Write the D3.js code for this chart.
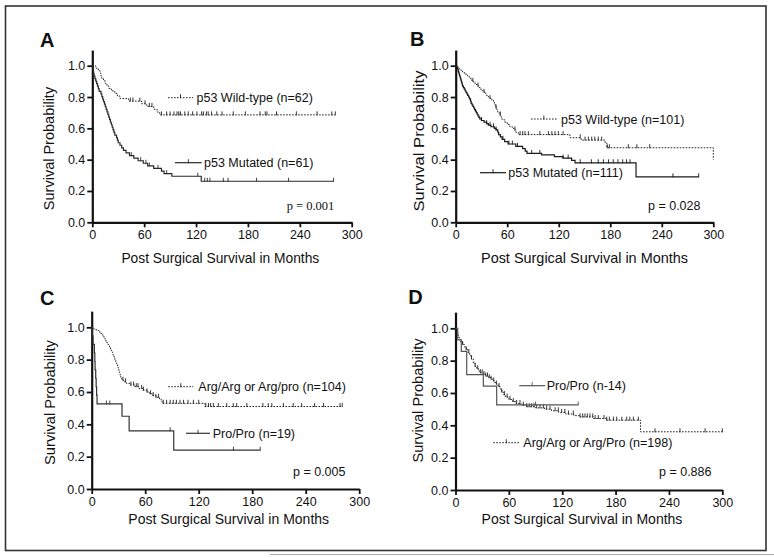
<!DOCTYPE html>
<html><head><meta charset="utf-8">
<script src="https://cdn.jsdelivr.net/npm/d3@7"></script>
<style>body{margin:0;background:#fff} svg{display:block} text{font-family:"Liberation Sans",Arial,sans-serif;fill:#111}</style>
</head><body><svg id="c" width="774" height="558"></svg>
<script>
// ---------- tick labels ----------
const xTicks = [0, 60, 120, 180, 240, 300];
const yTicks = [0, 0.2, 0.4, 0.6, 0.8, 1.0];
const panelLetters = ["A", "B", "C", "D"];
const pValues = ["p = 0.001", "p = 0.028", "p = 0.005", "p = 0.886"];
const xTitle = "Post Surgical Survival in Months";
const yTitle = "Survival Probability";

// ---------- Panel A ----------
const aWildLabel = "p53 Wild-type (n=62)";
const aWildSteps = [[0,1],[4,0.984],[7,0.968],[9,0.952],[10,0.935],[11,0.919],[13,0.903],[15,0.887],[17,0.871],[19,0.855],[22,0.839],[26,0.823],[29,0.806],[32,0.79],[42,0.774],[57,0.757],[63,0.74],[71,0.722],[75,0.704],[78,0.686]];
const aWildEnd = 281;
const aWildCensor = [44,47,55,61,66,69,80,86,90,94.5,98,100,102,107,111,116,121,126.5,128.5,132,134,138,144,150,163,177,194,200,202,213,236,260,277,281];
const aMutLabel = "p53 Mutated (n=61)";
const aMutSteps = [[0,1],[0.5,0.984],[1,0.967],[1.5,0.951],[2,0.934],[3,0.918],[4,0.902],[5,0.885],[6,0.869],[7,0.852],[8,0.836],[10,0.82],[11,0.803],[12,0.787],[13,0.77],[14,0.754],[15,0.738],[16,0.721],[17,0.705],[18,0.689],[19,0.672],[20,0.656],[21,0.639],[22,0.623],[23,0.607],[24,0.59],[25,0.574],[26,0.557],[28,0.541],[29,0.525],[30,0.508],[32,0.492],[34,0.475],[36,0.459],[39,0.443],[43,0.426],[48,0.41],[53,0.393],[59,0.377],[64,0.36],[71,0.344],[80,0.327],[83,0.311],[92,0.294],[126,0.262]];
const aMutEnd = 279;
const aMutCensor = [45,56,62,66,76,86,122,130,133,136,151.5,157,190,227,279];

// ---------- Panel B ----------
const bWildLabel = "p53 Wild-type (n=101)";
const bWildSteps = [[0,1],[2,0.99],[4,0.98],[6,0.97],[8,0.96],[10,0.95],[12,0.94],[14,0.93],[16,0.92],[18,0.91],[19,0.9],[21,0.89],[23,0.88],[25,0.87],[27,0.86],[29,0.85],[31,0.84],[33,0.83],[35,0.82],[36,0.81],[38,0.8],[40,0.79],[42,0.78],[44,0.77],[45,0.76],[46,0.745],[47,0.73],[48,0.715],[49,0.7],[51,0.685],[53,0.67],[54,0.655],[57,0.64],[60,0.625],[63,0.61],[66,0.6],[68,0.59],[70,0.575],[73,0.56],[133,0.54],[146,0.525],[174,0.505],[176,0.476],[300,0.4]];
const bWildEnd = 300;
const bWildCensor = [20,26,33,40,47,52,69,75,78,80.7,84.6,98,108,112,115.6,119.5,125,145,150.6,154.5,158.4,162,166,170,176.6,179,201,211,226];
const bMutLabel = "p53 Mutated (n=111)";
const bMutSteps = [[0,1],[1,0.991],[2,0.982],[2.5,0.973],[3,0.964],[3.5,0.955],[4,0.946],[4.5,0.937],[5,0.928],[5.5,0.919],[6,0.91],[6.5,0.9],[7,0.89],[7.5,0.88],[8,0.87],[9,0.86],[10,0.85],[11,0.84],[12,0.83],[13,0.82],[14,0.81],[15,0.8],[16,0.79],[17,0.78],[17.5,0.77],[18,0.76],[19,0.75],[20,0.74],[21,0.73],[22,0.72],[23,0.71],[24,0.7],[25,0.69],[26,0.68],[27,0.67],[28,0.66],[30,0.65],[33,0.64],[36,0.63],[38,0.62],[41,0.61],[45,0.6],[47,0.59],[49,0.575],[50,0.56],[52,0.545],[54,0.53],[57,0.515],[61,0.5],[70,0.485],[78,0.47],[81,0.455],[83,0.44],[100,0.43],[115,0.42],[125,0.41],[135,0.395],[139,0.38],[210,0.29]];
const bMutEnd = 283;
const bMutCensor = [30,36,40,44,47,55,62,66,72,88.5,98,125,131,145,158,166,172,178,183.5,189,194.5,199,203,253,283];

// ---------- Panel C ----------
const cArgLabel = "Arg/Arg or Arg/pro (n=104)";
const cArgSteps = [[0,1],[2,0.99],[5,0.981],[8,0.971],[10,0.962],[12,0.952],[13,0.942],[14,0.933],[15,0.923],[16,0.913],[17,0.904],[18,0.894],[19,0.885],[20,0.875],[21,0.865],[22,0.856],[23,0.846],[23.5,0.836],[24,0.827],[25,0.817],[25.5,0.808],[26,0.798],[27,0.788],[27.5,0.779],[28,0.769],[29,0.76],[29.5,0.75],[30,0.74],[30.5,0.731],[31,0.721],[31.5,0.712],[32,0.702],[32.5,0.692],[33,0.683],[34,0.673],[36,0.663],[39,0.653],[43,0.643],[48,0.633],[53,0.622],[57,0.611],[62,0.6],[65,0.589],[68,0.578],[72,0.567],[76,0.555],[78,0.543],[79,0.53],[127,0.51]];
const cArgEnd = 281;
const cArgCensor = [35,38,44,47,50,52,56,58,62,66,69,72,75,80.3,84,88,91.5,95,99,103,108,114,120,128,131,133.4,136.4,142,151.4,158.8,162.6,174,192,198,202,215,226,235.5,250,260,278.5,281];
const cProLabel = "Pro/Pro (n=19)";
const cProSteps = [[0,1],[0.5,0.947],[1.5,0.895],[3,0.842],[3.5,0.789],[3.8,0.737],[4.5,0.684],[5,0.632],[5.5,0.579],[6,0.526],[34,0.45],[42,0.36],[92,0.24]];
const cProEnd = 189;
const cProCensor = [16.5,20.3,88,159,189];

// ---------- Panel D ----------
const dProLabel = "Pro/Pro (n-14)";
const dProSteps = [[0,1],[2.5,0.929],[6.5,0.857],[12.6,0.714],[31.3,0.643],[46.3,0.526]];
const dProEnd = 138;
const dProCensor = [90,138];
const dArgLabel = "Arg/Arg or Arg/Pro (n=198)";
const dArgSteps = [[0,1],[1,0.985],[2,0.97],[3,0.955],[4,0.94],[5,0.928],[6,0.915],[8,0.9],[10,0.885],[12,0.868],[14,0.85],[16,0.83],[18,0.81],[20,0.785],[22,0.765],[24,0.75],[26,0.735],[28,0.725],[31,0.715],[34,0.705],[37,0.695],[40,0.685],[42,0.675],[44,0.665],[46,0.655],[48,0.64],[50,0.625],[52,0.605],[54,0.59],[56,0.575],[60,0.56],[64,0.547],[68,0.535],[74,0.525],[80,0.515],[90,0.508],[100,0.5],[108,0.49],[116,0.48],[124,0.47],[133,0.46],[140,0.452],[155,0.442],[170,0.432],[208,0.36]];
const dArgEnd = 300;
const dArgCensor = [8,12,15,18,22,25,28,30,32,34,36,38,40,43,46,49,52,55,58,61.3,65,68.8,72.5,76.3,80,83,85.7,88.3,91.3,95,98.8,102.5,106.3,112,115.6,119.4,123,127,132.5,140,143,145.6,148.2,151.2,154.3,157,160.6,167,170,173,177.5,181.3,187,192.5,196,200,205.6,224.3,252.4,280.6,300];

// ---------- drawing ----------
const svg = d3.select("#c");
svg.append("rect").attr("x",5.5).attr("y",6).attr("width",760.5).attr("height",544.5)
  .attr("fill","none").attr("stroke","#333").attr("stroke-width",1.6);
svg.append("line").attr("x1",270).attr("x2",774).attr("y1",554.5).attr("y2",554.5)
  .attr("stroke","#aaa").attr("stroke-width",1);

const DOT = "1.6,1.4";

function survAt(steps, t) {
  let v = steps[0][1];
  for (const s of steps) { if (s[0] <= t) v = s[1]; else break; }
  return v;
}

const panels = [
  {letter:panelLetters[0], lx:40, ly:47, x0:92.3, x1:351.7, y0:222.3, y1:65.7,
   yt:{x:54, y:148.5, size:14.5, len:null}, xt:{x:220.3, y:263, size:13.8, len:null},
   p:{text:pValues[0], x:286.7, y:210, serif:true},
   series:[
     {steps:aWildSteps, end:aWildEnd, censor:aWildCensor, dash:DOT, color:"#222", w:1, label:aWildLabel, lg:{x1:168, x2:193, y:97.7, tx:196.5}},
     {steps:aMutSteps, end:aMutEnd, censor:aMutCensor, dash:null, color:"#2a2a2a", w:1.2, label:aMutLabel, lg:{x1:175, x2:201.7, y:162.7, tx:204}}
   ]},
  {letter:panelLetters[1], lx:410, ly:46, x0:455.7, x1:713.3, y0:222.3, y1:65.7,
   yt:{x:424, y:141, size:14.5, len:141}, xt:{x:584.5, y:263, size:14.2, len:207},
   p:{text:pValues[1], x:648, y:209.5, serif:false},
   series:[
     {steps:bWildSteps, end:bWildEnd, censor:bWildCensor, dash:DOT, color:"#222", w:1, label:bWildLabel, lg:{x1:531, x2:556.7, y:119, tx:561}},
     {steps:bMutSteps, end:bMutEnd, censor:bMutCensor, dash:null, color:"#1a1a1a", w:1.2, label:bMutLabel, lg:{x1:480, x2:506, y:172.7, tx:508.3}}
   ]},
  {letter:panelLetters[2], lx:40, ly:305, x0:91.7, x1:359.2, y0:489, y1:327.3,
   yt:{x:55, y:402.5, size:14.7, len:null}, xt:{x:228.7, y:524, size:14, len:null},
   p:{text:pValues[2], x:293, y:476, serif:false},
   series:[
     {steps:cArgSteps, end:cArgEnd, censor:cArgCensor, dash:DOT, color:"#222", w:1, label:cArgLabel, lg:{x1:168.3, x2:193.3, y:386.7, tx:198.3}},
     {steps:cProSteps, end:cProEnd, censor:cProCensor, dash:null, color:"#333", w:1.2, label:cProLabel, lg:{x1:186, x2:210, y:433.3, tx:212.7}}
   ]},
  {letter:panelLetters[3], lx:408.3, ly:304.3, x0:455.5, x1:722.3, y0:490, y1:328.3,
   yt:{x:423, y:400.5, size:14.6, len:null}, xt:{x:582, y:524, size:14, len:null},
   p:{text:pValues[3], x:659, y:475.5, serif:false},
   series:[
     {steps:dArgSteps, end:dArgEnd, censor:dArgCensor, dash:DOT, color:"#222", w:1, label:dArgLabel, lg:{x1:493.3, x2:519.3, y:442.7, tx:523.3}},
     {steps:dProSteps, end:dProEnd, censor:dProCensor, dash:null, color:"#555", w:1.2, label:dProLabel, lg:{x1:519.3, x2:545, y:385.7, tx:546.7}}
   ]}
];

panels.forEach(p => {
  const g = svg.append("g");
  const x = d3.scaleLinear().domain([0,300]).range([p.x0, p.x1]);
  const y = d3.scaleLinear().domain([0,1.1]).range([p.y0, p.y0 - (p.y0 - p.y1) * 1.1]);

  // axes
  const ax = g.append("g").attr("transform", `translate(0,${p.y0})`)
    .call(d3.axisBottom(x).tickValues(xTicks).tickSize(5).tickSizeOuter(0).tickPadding(3).tickFormat(d3.format("d")));
  const ay = g.append("g").attr("transform", `translate(${p.x0},0)`)
    .call(d3.axisLeft(y).tickValues(yTicks).tickSize(5).tickSizeOuter(0).tickPadding(2).tickFormat(d3.format(".1f")));
  [ax, ay].forEach(a => {
    a.select(".domain").attr("stroke","#111").attr("stroke-width",2.2);
    a.selectAll(".tick line").attr("stroke","#111").attr("stroke-width",1.8);
    a.selectAll(".tick text").attr("font-size",12.5).attr("fill","#111")
      .attr("font-family",'"Liberation Sans",Arial,sans-serif');
  });

  // series
  p.series.forEach(s => {
    const pts = s.steps.slice();
    const last = pts[pts.length - 1];
    if (s.end > last[0]) pts.push([s.end, last[1]]);
    g.append("path").datum(pts)
      .attr("d", d3.line().x(d => x(d[0])).y(d => y(d[1])).curve(d3.curveStepAfter))
      .attr("fill","none").attr("stroke", s.color).attr("stroke-width", s.w)
      .attr("stroke-dasharray", s.dash);
    g.append("g").selectAll("line").data(s.censor).join("line")
      .attr("x1", d => x(d)).attr("x2", d => x(d))
      .attr("y1", d => y(survAt(s.steps, d)) - 3.5)
      .attr("y2", d => y(survAt(s.steps, d)) + 0.5)
      .attr("stroke", s.color).attr("stroke-width", 0.9);
    // legend
    g.append("line").attr("x1", s.lg.x1).attr("x2", s.lg.x2).attr("y1", s.lg.y).attr("y2", s.lg.y)
      .attr("stroke", s.color).attr("stroke-width", s.w).attr("stroke-dasharray", s.dash);
    const mid = (s.lg.x1 + s.lg.x2) / 2;
    g.append("line").attr("x1", mid).attr("x2", mid).attr("y1", s.lg.y - 3.5).attr("y2", s.lg.y + 0.5)
      .attr("stroke", s.color).attr("stroke-width", 0.9);
    g.append("text").attr("x", s.lg.tx).attr("y", s.lg.y + 4.5).attr("font-size", 12.5).text(s.label);
  });

  // titles
  g.append("text").attr("x", p.lx).attr("y", p.ly).attr("font-size", 20).attr("font-weight","bold").text(p.letter);
  const yt = g.append("text").attr("transform", `translate(${p.yt.x},${p.yt.y}) rotate(-90)`)
    .attr("text-anchor","middle").attr("font-size", p.yt.size).text(yTitle);
  if (p.yt.len) yt.attr("textLength", p.yt.len).attr("lengthAdjust","spacingAndGlyphs");
  const xt = g.append("text").attr("x", p.xt.x).attr("y", p.xt.y)
    .attr("text-anchor","middle").attr("font-size", p.xt.size).text(xTitle);
  if (p.xt.len) xt.attr("textLength", p.xt.len).attr("lengthAdjust","spacingAndGlyphs");
  const pt = g.append("text").attr("x", p.p.x).attr("y", p.p.y).attr("font-size", p.p.serif ? 12.5 : 12.5).text(p.p.text);
  if (p.p.serif) pt.style("font-family", '"Liberation Serif","Times New Roman",serif');
});
</script>
</body></html>
